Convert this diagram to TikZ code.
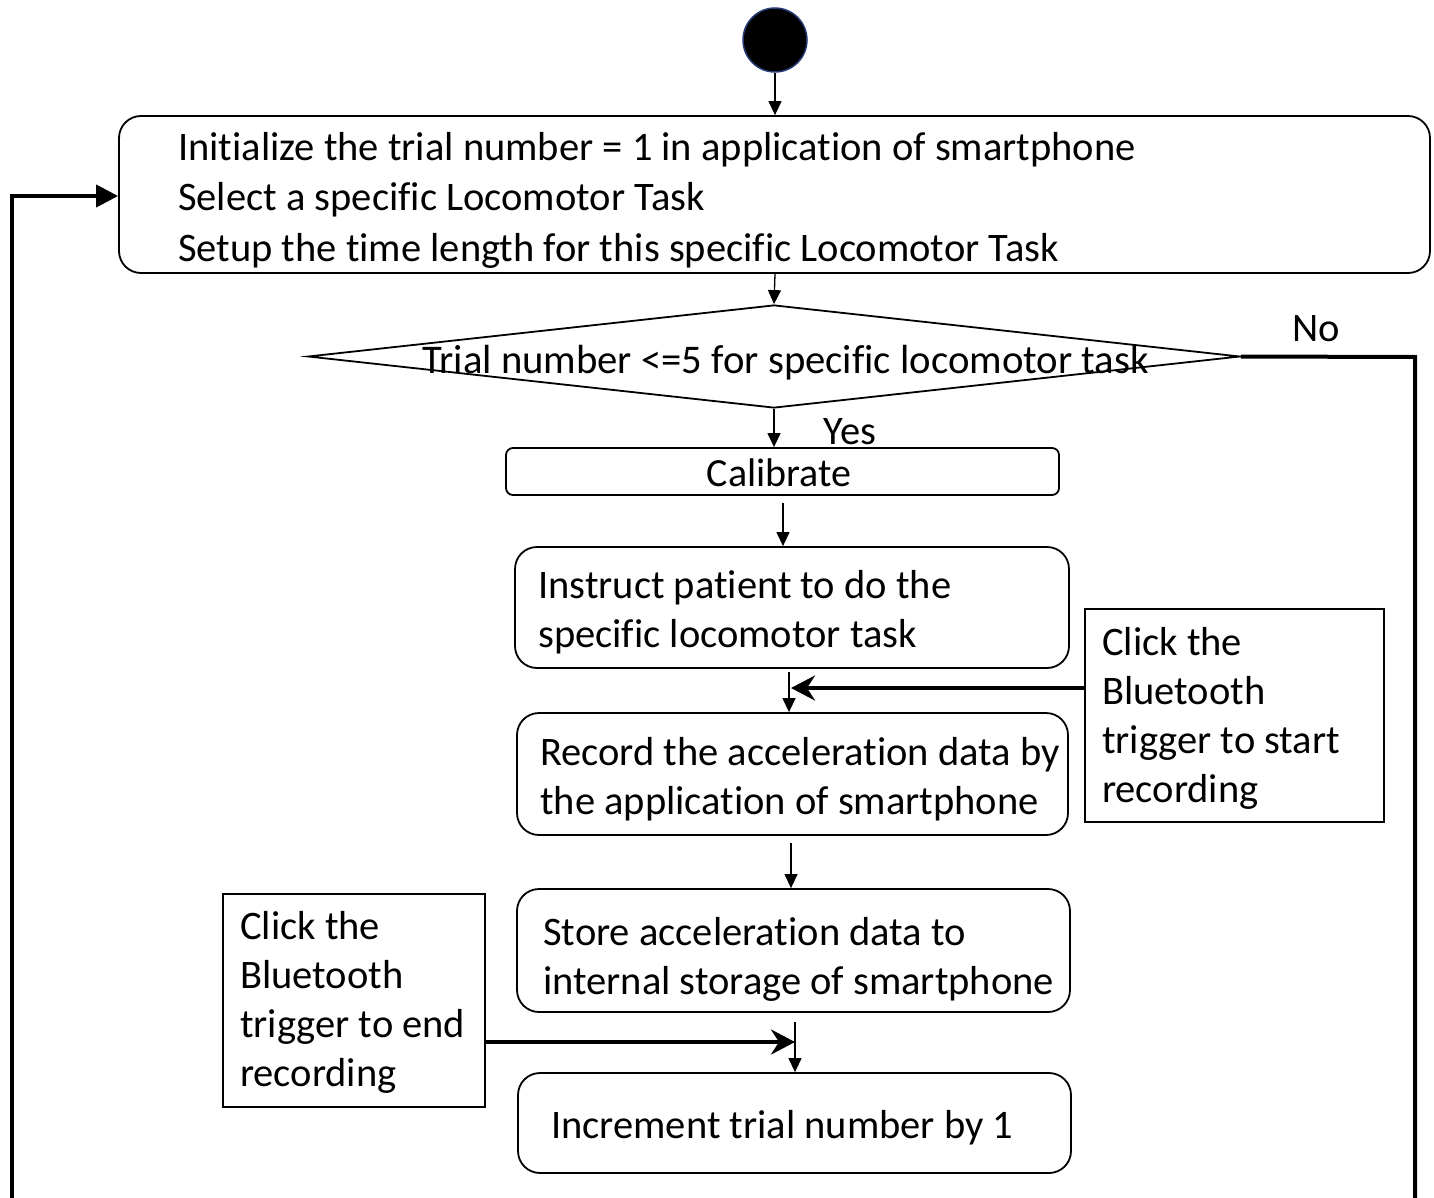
\documentclass[tikz,border=0pt]{standalone}
\usepackage{fontspec}
\setmainfont{Carlito}[Ligatures=NoCommon]
\usetikzlibrary{arrows.meta,shapes.geometric,calc}
\begin{document}
\begin{tikzpicture}[x=1pt,y=-1pt,
  every node/.style={font=\fontsize{40.5}{49}\selectfont},
  box/.style={draw, line width=1.8pt, inner sep=0pt},
  txt/.style={anchor=west, align=left, inner sep=0pt},
  thinarrow/.style={line width=1.3pt, -{Triangle[length=14pt,width=13pt]}},
  thickarrow/.style={line width=4pt, -{Stealth[length=24pt,width=25pt,inset=8pt]}},
  loopline/.style={line width=4pt},
]
\useasboundingbox (0,0) rectangle (1434,1198);

% start
\node[circle, fill=black, draw={rgb,255:red,40;green,60;blue,120}, line width=1.5pt,
      minimum size=64pt, inner sep=0pt] (start) at (775,40) {};

% init box
\node[box, rounded corners=22pt, minimum width=1311pt, minimum height=157pt] (init) at (774.5,194.5) {};
\node[txt, font=\fontsize{40.5}{50.5}\selectfont] (initT) at (178,200)
  {Initialize the trial number = 1 in application of smartphone\\
   Select a specific Locomotor Task\\
   Setup the time length for this specific Locomotor Task};

% decision
\node[diamond, draw, line width=1.8pt, minimum width=932pt, minimum height=103pt, inner sep=0pt]
  (dec) at (774,356.5) {};
\node[inner sep=0pt, font=\fontsize{40.7}{49}\selectfont] (decT) at (785.5,363)
  {Trial number <=5 for specific locomotor task};
\node (no) at (1316,329) {No};
\node (yes) at (850,432) {Yes};

% calibrate
\node[box, rounded corners=7pt, minimum width=553pt, minimum height=47pt] (calib) at (782.5,471.5) {};
\node[inner sep=0pt, font=\fontsize{40}{49}\selectfont] (calibT) at (779,473) {Calibrate};

% instruct
\node[box, rounded corners=22pt, minimum width=554pt, minimum height=121pt] (instr) at (792,607.5) {};
\node[txt] (instrT) at (538,612) {Instruct patient to do the\\specific locomotor task};

% record
\node[box, rounded corners=22pt, minimum width=551pt, minimum height=122pt] (record) at (792.5,774) {};
\node[txt] (recordT) at (540,779) {Record the acceleration data by\\the application of smartphone};

% store
\node[box, rounded corners=22pt, minimum width=553pt, minimum height=123pt] (store) at (793.5,950.5) {};
\node[txt] (storeT) at (543,959) {Store acceleration data to\\internal storage of smartphone};

% increment
\node[box, rounded corners=22pt, minimum width=553pt, minimum height=100pt] (incr) at (794.5,1123) {};
\node[txt] (incrT) at (551,1128) {Increment trial number by 1};

% bluetooth start
\node[box, minimum width=299pt, minimum height=213pt] (clickR) at (1234.5,715.5) {};
\node[txt] (clickRT) at (1102,718) {Click the\\Bluetooth\\trigger to start\\recording};

% bluetooth end
\node[box, minimum width=262pt, minimum height=213pt] (clickL) at (354,1000.5) {};
\node[txt] (clickLT) at (240,1002.5) {Click the\\Bluetooth\\trigger to end\\recording};

% coordinates
\coordinate (p1) at (783,503);
\coordinate (p2) at (789,672);
\coordinate (p3) at (791,843);
\coordinate (p4) at (795,1022);
\coordinate (jr) at (791,688);
\coordinate (jl) at (795,1042);
\coordinate (nocorner) at (1415,357);
\coordinate (noend) at (1415,1215);
\coordinate (loopbot) at (12,1215);
\coordinate (looptop) at (12,196);

% connectors
\draw[thinarrow] (start.south) -- (start.south |- init.north);
\draw[thinarrow] (init.south -| start) -- (dec.north);
\draw[thinarrow] (dec.south) -- (dec.south |- calib.north);
\draw[thinarrow] (p1) -- (p1 |- instr.north);
\draw[thinarrow] (p2) -- (p2 |- record.north);
\draw[thinarrow] (p3) -- (p3 |- store.north);
\draw[thinarrow] (p4) -- (p4 |- incr.north);

\draw[thickarrow] (clickR.west |- jr) -- (jr);
\draw[thickarrow] (clickL.east |- jl) -- (jl);

\draw[loopline] (dec.east) -- (nocorner) -- (noend);
\draw[loopline, -{Triangle[length=22pt,width=22pt]}] (loopbot) -- (looptop) -- (looptop -| init.west);
\end{tikzpicture}
\end{document}
